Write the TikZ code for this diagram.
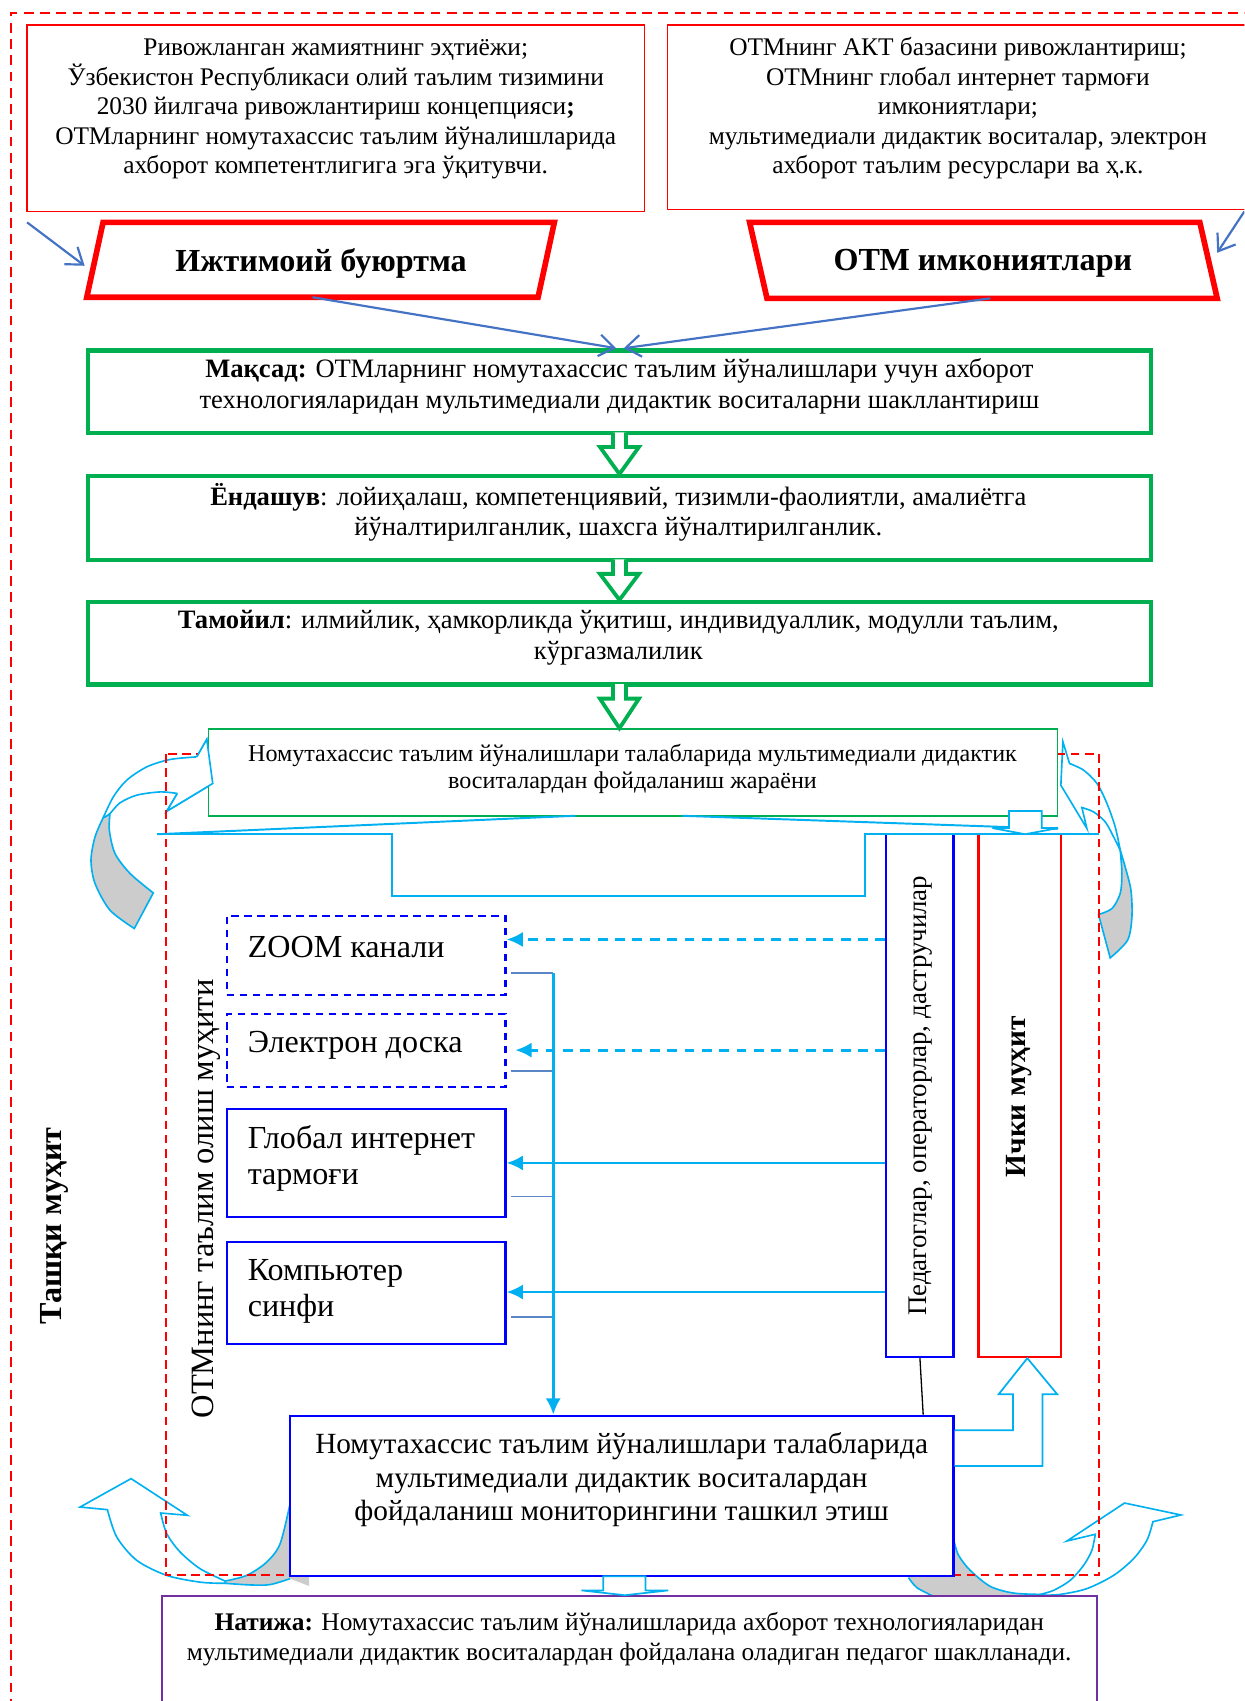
\documentclass[tikz,border=0pt]{standalone}
\usepackage{fontspec}
\setmainfont{Liberation Serif}
\usetikzlibrary{arrows.meta,calc}
\definecolor{myred}{HTML}{FF0000}
\definecolor{mygreen}{HTML}{00B050}
\definecolor{myblue}{HTML}{0000FF}
\definecolor{mycyan}{HTML}{00B0F0}
\definecolor{steel}{HTML}{4472C4}
\definecolor{stubc}{HTML}{5B86C5}
\definecolor{mypurple}{HTML}{7030A0}
\definecolor{mygray}{HTML}{CCCCCC}
\tikzset{
  reddash/.style={draw=myred, line width=0.75pt, dash pattern=on 4.5pt off 3pt},
  redin/.style={draw=myred, line width=0.7pt, dash pattern=on 4pt off 2.5pt},
  topbox/.style={draw=myred, line width=0.6pt, fill=white, inner sep=0pt},
  para/.style={draw=myred, line width=2.6pt, fill=white, line join=miter},
  gbox/.style={draw=mygreen, line width=2pt, fill=white, inner sep=0pt, minimum width=490pt, minimum height=38pt},
  gthin/.style={draw=mygreen, line width=0.7pt, fill=white, inner sep=0pt},
  bbox/.style={draw=myblue, line width=1pt, fill=white, inner sep=0pt},
  bdash/.style={bbox, dash pattern=on 3.5pt off 2.5pt},
  rbox/.style={draw=myred, line width=1pt, fill=white, inner sep=0pt},
  pbox/.style={draw=mypurple, line width=0.8pt, fill=white, inner sep=0pt},
  steelarr/.style={draw=steel, line width=1pt, -{Straight Barb[length=7pt,width=10pt]}},
  carr/.style={draw=mycyan, line width=1.3pt, -{Latex[length=7.5pt,width=7pt]}},
  cdash/.style={carr, dash pattern=on 4.5pt off 3.5pt},
  stubline/.style={draw=stubc, line width=0.8pt},
  cline/.style={draw=mycyan, line width=0.9pt},
  chol/.style={draw=mycyan, line width=0.8pt, fill=white, line join=miter},
  garr/.style={draw=mygreen, line width=1.75pt, fill=white, line join=miter},
  cwhite/.style={draw=mycyan, line width=0.75pt, fill=white, line join=miter},
  cgray/.style={draw=mycyan, line width=0.75pt, fill=mygray, line join=miter},
  cedge/.style={draw=mycyan, line width=0.75pt},
  txt/.style={inner sep=0pt, align=center},
  ttop/.style={txt, font=\fontsize{11.7}{13.6}\selectfont},
  tpara/.style={txt, font=\bfseries\fontsize{14.8}{17}\selectfont},
  tgreen/.style={txt, font=\fontsize{12.25}{14}\selectfont},
  tjar/.style={txt, font=\fontsize{11.1}{12.5}\selectfont},
  tsmall/.style={inner sep=0pt, align=left, anchor=west, font=\fontsize{14.8}{16.6}\selectfont},
  tmon/.style={txt, font=\fontsize{13.5}{15.5}\selectfont},
  tnat/.style={txt, font=\fontsize{11.7}{14}\selectfont},
}
\begin{document}
\begin{tikzpicture}[x=0.5pt,y=-0.5pt]
\path[use as bounding box] (0,0) rectangle (1147,1568);
\clip (0,0) rectangle (1147,1568);

% outer dashed frame
\draw[reddash] (10,1590) -- (10,12) -- (1165,12);

% ---------- curved arrows (back parts) ----------
% top-left
\path[cgray] plot[smooth] coordinates {(95.2,753.6) (87.6,771.4) (83.9,792.9) (87.6,814.4) (101.4,839.0) (123.8,855.9)}
  -- (141.3,823.1) -- plot[smooth] coordinates {(141.3,823.1) (119.9,805.2) (106.0,786.7) (100.8,765.3) (101.4,749.9)} -- cycle;
\path[cwhite] (181.4,697.7) -- (190.6,681.6) -- (196.1,722.2) -- (153.7,747.8) -- (163.5,731.4)
  -- plot[smooth] coordinates {(163.5,731.4) (147.5,730.0) (126.0,733.0) (110.6,740.1) (101.4,749.9) (97,753)}
  -- plot[smooth] coordinates {(95.2,753.6) (104.5,734.5) (116.8,719.2) (135.3,706.9) (156.7,700.1) (181.4,697.7)} -- cycle;
% top-right
\path[cgray] plot[smooth] coordinates {(1032.6,783.7) (1037.2,799.1) (1042.5,820.6) (1043.4,845.2) (1039.4,866.7) (1023.4,883.0)}
  -- (1012.6,843.0) -- plot[smooth] coordinates {(1012.6,843.0) (1025.0,837.5) (1032.6,823.6) (1034.2,805.2) (1032.6,783.7)} -- cycle;
\path[cwhite] (979.8,683.8) -- (985.9,703.8)
  -- plot[smooth] coordinates {(985.9,703.8) (998.8,709.9) (1011.2,722.2) (1020.4,740.7) (1028.0,762.2) (1032.6,783.7)}
  -- plot[smooth] coordinates {(1032.6,783.7) (1026.5,771.4) (1018.8,757.6) (1008.0,748.4) (997.3,744.4)}
  -- (1001.9,763.7) -- (977.9,723.8) -- cycle;
% bottom-left
\fill[mygray] (207.5,1458) -- plot[smooth] coordinates {(207.5,1457.4) (227.4,1452.2) (245.9,1439.9) (258.2,1423.0) (267.4,1386.1)}
  -- (285,1386) -- (285,1462) -- plot[smooth] coordinates {(267.4,1455.2) (248.9,1460.7) (230.5,1461.0) (207.5,1459.5)} -- cycle;
\draw[cedge] plot[smooth] coordinates {(207.5,1457.4) (227.4,1452.2) (245.9,1439.9) (258.2,1423.0) (267.4,1386.1)};
\draw[cedge] plot[smooth] coordinates {(207.5,1459.5) (230.5,1461.0) (248.9,1460.7) (267.4,1455.2)};
\path[cwhite] (148.1,1394.7) -- (172.7,1396.8) -- (120.8,1363.0) -- (73.8,1389.2) -- (99.0,1391.6)
  -- plot[smooth] coordinates {(99.0,1391.6) (107.6,1416.8) (126.0,1438.3) (153.7,1452.2) (185,1458.5) (207.5,1459.5)}
  -- plot[smooth] coordinates {(207.5,1457.4) (184.4,1446.0) (166.0,1430.6) (153.7,1413.7) (148.1,1394.7)} -- cycle;
% bottom-right
\fill[mygray] (958.9,1469.7) -- plot[smooth] coordinates {(958.9,1469.7) (934.3,1468.5) (912.8,1462.3) (894.3,1447.5) (883.6,1433.7) (879.6,1421.4)}
  -- (870,1421) -- (830,1440) -- plot[smooth] coordinates {(837.5,1454.3) (845.2,1463.5) (860.5,1471.5) (870,1478)} -- (960,1478) -- cycle;
\draw[cedge] plot[smooth] coordinates {(958.9,1469.7) (934.3,1468.5) (912.8,1462.3) (894.3,1447.5) (883.6,1433.7) (879.6,1421.4)};
\draw[cedge] plot[smooth] coordinates {(837.5,1454.3) (845.2,1463.5) (860.5,1471.5)};
\path[cwhite] (1009.6,1414.3) -- (983.5,1420.5) -- (1036.6,1385.5) -- (1088.6,1396.5) -- (1062.8,1402.7)
  -- plot[smooth] coordinates {(1062.8,1402.7) (1057.2,1419.9) (1044.9,1436.8) (1026.5,1452.2) (1001.9,1464.4) (977.3,1469.7) (958.9,1470.5)}
  -- plot[smooth] coordinates {(958.9,1469.7) (971.2,1466.0) (986.5,1456.8) (998.8,1443.0) (1006.5,1429.1) (1009.6,1414.3)} -- cycle;

% inner dashed frame
\draw[redin] (153,695) rectangle (1013,1452);

% ---------- top boxes ----------
\node[topbox, minimum width=284.5pt, minimum height=86pt] (tl) at (309.5,109) {};
\node[topbox, minimum width=275pt, minimum height=85pt] (tr) at (890,108) {};
\node[ttop] (tltext) at (309.5,100.5) {Ривожланган жамиятнинг эҳтиёжи;\\Ўзбекистон Республикаси олий таълим тизимини\\2030 йилгача ривожлантириш концепцияси\textbf{;}\\ОТМларнинг номутахассис таълим йўналишларида\\ахборот компетентлигига эга ўқитувчи.};
\node[ttop] (trtext) at (883,100) {ОТМнинг АКТ базасини ривожлантириш;\\ОТМнинг глобал интернет тармоғи\\имкониятлари;\\мультимедиали дидактик воситалар, электрон\\ахборот таълим ресурслари ва ҳ.к.};

% parallelograms
\draw[para] (95,205) -- (511,205) -- (496,274) -- (80,274) -- cycle;
\draw[para] (691,205) -- (1106,205) -- (1122,275) -- (707,275) -- cycle;
\node[tpara] (ijt) at (296,243) {Ижтимоий буюртма};
\node[tpara] (otm) at (906,243) {ОТМ имкониятлари};
\coordinate (ijb) at (288,274);
\coordinate (otb) at (913,275);
\coordinate (dl0) at (25,205);
\coordinate (dl1) at (78,245);
\coordinate (dr0) at (1147,195);
\coordinate (dr1) at (1122,233);

% green boxes
\node[gbox] (maqsad) at (571,361) {};
\node[gbox, minimum height=38.5pt] (yond) at (571,477.5) {};
\node[gbox] (tam) at (571,593) {};
\node[tgreen] at (571,356) {\textbf{Мақсад:} ОТМларнинг номутахассис таълим йўналишлари учун ахборот\\технологияларидан мультимедиали дидактик воситаларни шакллантириш};
\node[tgreen] at (570,472.5) {\textbf{Ёндашув}: лойиҳалаш, компетенциявий, тизимли-фаолиятли, амалиётга\\йўналтирилганлик, шахсга йўналтирилганлик.};
\node[tgreen] at (570,588) {\textbf{Тамойил}: илмийлик, ҳамкорликда ўқитиш, индивидуаллик, модулли таълим,\\кўргазмалилик};

% process box
\node[gthin, minimum width=391.5pt, minimum height=40pt] (jar) at (583.5,712) {};
\node[tjar] at (583,709) {Номутахассис таълим йўналишлари талабларида мультимедиали дидактик\\воситалардан фойдаланиш жараёни};

% top-left arrow head redrawn over process box
\path[cwhite] (181.4,697.7) -- (190.6,681.6) -- (196.1,722.2) -- (153.7,747.8) -- (163.5,731.4);
\draw[redin] (153,695) -- (153,760);

% green hollow arrows
\foreach \a/\b in {maqsad/yond,yond/tam,tam/jar}{
  \draw[garr] let \p1=(\a.south), \p2=(\b.north) in
    (\x1-3pt,\y1+1.2pt) -- (\x1-3pt,\y1-5.5pt) -- (\x1-9pt,\y1-5.5pt) -- (\x1,\y2)
    -- (\x1+9pt,\y1-5.5pt) -- (\x1+3pt,\y1-5.5pt) -- (\x1+3pt,\y1+1.2pt);
}

% resource boxes
\node[bdash, minimum width=128.5pt, minimum height=36.5pt] (zoom) at (337.5,880.5) {};
\node[bdash, minimum width=128.5pt, minimum height=33.5pt] (elek) at (337.5,968.5) {};
\node[bbox, minimum width=128.5pt, minimum height=50pt] (glob) at (337.5,1072) {};
\node[bbox, minimum width=128.5pt, minimum height=47pt] (komp) at (337.5,1192) {};
\node[tsmall] at (228,873) {ZOOM канали};
\node[tsmall] at (228,964) {Электрон доска};
\node[tsmall] at (228,1067.5) {Глобал интернет\\тармоғи};
\node[tsmall] at (228,1190.5) {Компьютер\\синфи};

% vertical boxes
\node[bbox, minimum width=241pt, minimum height=31pt, rotate=90] (ped) at (848,1010) {};
\node[rbox, minimum width=241pt, minimum height=38pt, rotate=90] (ichki) at (940,1010) {};
\node[txt, rotate=90, font=\fontsize{12.4}{14}\selectfont] at (849,1010) {Педагоглар, операторлар, дастручилар};
\node[txt, rotate=90, font=\bfseries\fontsize{13.5}{15}\selectfont] at (939,1011) {Ички муҳит};
\node[txt, rotate=90, font=\fontsize{15}{17}\selectfont] at (190,1105) {ОТМнинг таълим олиш муҳити};
\node[txt, rotate=90, font=\bfseries\fontsize{14.8}{16}\selectfont] at (50,1130) {Ташқи муҳит};

% monitoring and result boxes
\node[bbox, minimum width=306pt, minimum height=74pt] (mon) at (573,1379) {};
\node[tmon] at (573,1364) {Номутахассис таълим йўналишлари талабларида\\мультимедиали дидактик воситалардан\\фойдаланиш мониторингини ташкил этиш};
\node[pbox, minimum width=431pt, minimum height=64.5pt] (nat) at (580,1535.5) {};
\node[tnat] at (580,1511) {\textbf{Натижа:} Номутахассис таълим йўналишларида ахборот технологияларидан\\мультимедиали дидактик воситалардан фойдалана оладиган педагог шаклланади.};

% ---------- connectors ----------
\draw[steelarr] (ijb) -- ([xshift=-1.5pt]maqsad.north);
\draw[steelarr] (otb) -- ([xshift=2pt]maqsad.north);
\draw[steelarr] (dl0) -- (dl1);
\draw[steelarr] (dr0) -- (dr1);

% bracket lines
\draw[cline] (145,769) -- (361,769) -- (361,826) -- (797,826) -- (797,769) -- (1013,769);
\draw[cline] (145,769) -- (530,752);
\draw[cline] (629,752) -- (975,764);
\draw[chol] (930,747.5) -- (930,763.3) -- (914.8,763.3) -- (945,769) -- (975.4,763.3) -- (960.3,763.3) -- (960.3,747.5) -- cycle;

% from staff box to resources
\draw[cdash] (ped.north |- 0,866) -- (zoom.east |- 0,866);
\draw[cdash] (ped.north |- 0,968) -- ([xshift=4pt]elek.east |- 0,968);
\draw[carr] (ped.north |- 0,1072) -- (glob.east |- 0,1072);
\draw[carr] (ped.north |- 0,1191) -- (komp.east |- 0,1191);

% bus to monitoring
\coordinate (bus) at (510,897);
\draw[stubline] ([xshift=2pt]zoom.east |- bus) -- (bus);
\draw[stubline] ([xshift=2pt]elek.east |- 0,987) -- (bus |- 0,987);
\draw[stubline] ([xshift=2pt]glob.east |- 0,1103) -- (bus |- 0,1103);
\draw[stubline] ([xshift=2pt]komp.east |- 0,1214) -- (bus |- 0,1214);
\draw[carr] (bus) -- (bus |- mon.north);

\draw[black, line width=0.6pt] (ped.west) -- ([xshift=1.5pt]ped.west |- mon.north);

% monitoring -> inner environment
\draw[chol] (mon.east |- 0,1318.5) -- (933.7,1318.5) -- (933.7,1285.3) -- (920.5,1285.3) -- (ichki.west -| 947,0)
  -- (974.6,1285.3) -- (961,1285.3) -- (961,1351.4) -- (mon.east |- 0,1351.4);
% monitoring -> result
\draw[chol] (556,1453) -- (556,1466) -- (536,1466) -- (576,1470.5) -- (616,1466) -- (595,1466) -- (595,1453) -- cycle;
\end{tikzpicture}
\end{document}
